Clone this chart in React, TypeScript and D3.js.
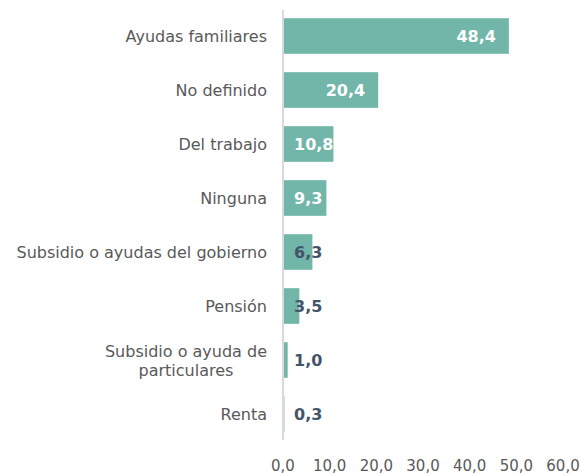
import React, { useEffect, useRef } from 'react';
import * as d3 from 'd3';

const categories = [
  'Ayudas familiares',
  'No definido',
  'Del trabajo',
  'Ninguna',
  'Subsidio o ayudas del gobierno',
  'Pensión',
  'Subsidio o ayuda de\nparticulares',
  'Renta',
];
const values = [48.4, 20.4, 10.8, 9.3, 6.3, 3.5, 1.0, 0.3];
const ticks = [0, 10, 20, 30, 40, 50, 60];

const fmt = (v: number) => v.toFixed(1).replace('.', ',');

const App = () => {
  const svgRef = useRef<SVGSVGElement>(null);

  useEffect(() => {
    document.body.style.margin = '0';
    const svg = d3.select(svgRef.current);
    svg.selectAll('*').remove();

    const font = '"DejaVu Sans", Verdana, sans-serif';
    const x = d3.scaleLinear().domain([0, 60]).range([283, 563]);
    const y = d3.scaleBand<string>().domain(categories).range([9, 441]).paddingInner(0.34).paddingOuter(0.17);

    // bars
    svg.append('g')
      .selectAll('rect')
      .data(values)
      .enter()
      .append('rect')
      .attr('x', x(0))
      .attr('y', (d, i) => y(categories[i])!)
      .attr('width', d => x(d) - x(0))
      .attr('height', y.bandwidth())
      .attr('fill', '#71b6a9');

    // axis line
    svg.append('line')
      .attr('x1', x(0)).attr('x2', x(0))
      .attr('y1', 10).attr('y2', 440)
      .attr('stroke', '#d9d9d9')
      .attr('stroke-width', 2);

    // category labels
    categories.forEach(c => {
      const cy = y(c)! + y.bandwidth() / 2;
      const lines = c.split('\n');
      const t = svg.append('text')
        .attr('font-family', font)
        .attr('font-size', 16)
        .attr('fill', '#595959')
        .attr('dominant-baseline', 'central');
      if (lines.length === 1) {
        t.attr('x', 267).attr('y', cy).attr('text-anchor', 'end').text(c);
      } else {
        // measure first line, center both lines under it
        t.text(lines[0]);
        const w = (t.node() as SVGTextElement).getComputedTextLength();
        t.text(null).attr('text-anchor', 'middle');
        lines.forEach((l, k) => {
          t.append('tspan')
            .attr('x', 267 - w / 2)
            .attr('y', cy + (k - (lines.length - 1) / 2) * 19)
            .text(l);
        });
      }
    });

    // value labels
    values.forEach((v, i) => {
      const cy = y(categories[i])! + y.bandwidth() / 2;
      const inside = v > 8;
      const t = svg.append('text')
        .attr('font-family', font)
        .attr('font-size', 16)
        .attr('font-weight', 'bold')
        .attr('fill', inside ? '#ffffff' : '#44546a')
        .attr('dominant-baseline', 'central')
        .attr('y', cy)
        .text(fmt(v));
      const w = (t.node() as SVGTextElement).getComputedTextLength();
      const start = Math.max(294, x(v) - 13 - w);
      t.attr('x', start);
      if (inside) {
        const id = `clip${i}`;
        svg.append('clipPath').attr('id', id)
          .append('rect')
          .attr('x', x(0)).attr('y', y(categories[i])!)
          .attr('width', x(v) - x(0)).attr('height', y.bandwidth());
        t.attr('clip-path', `url(#${id})`);
      }
    });

    // tick labels
    svg.append('g')
      .selectAll('text')
      .data(ticks)
      .enter()
      .append('text')
      .attr('x', d => x(d))
      .attr('y', 466)
      .attr('text-anchor', 'middle')
      .attr('dominant-baseline', 'central')
      .attr('font-family', font)
      .attr('font-size', 15)
      .attr('fill', '#595959')
      .text(d => fmt(d));
  }, []);

  return <svg ref={svgRef} width={581} height={474} style={{ display: 'block' }}></svg>;
};

export default App;
